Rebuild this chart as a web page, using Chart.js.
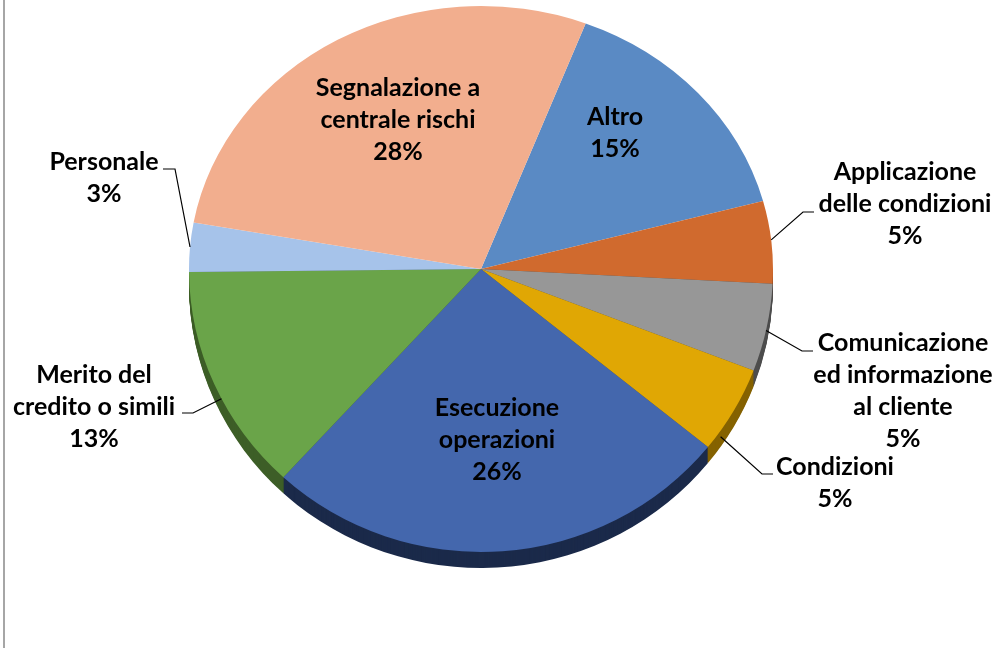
<!DOCTYPE html>
<html>
<head>
<meta charset="utf-8">
<script src="https://cdn.jsdelivr.net/npm/chart.js@4/dist/chart.umd.min.js"></script>
<style>
  html, body { margin: 0; padding: 0; background: #ffffff; }
  #wrap { position: relative; width: 996px; height: 648px; overflow: hidden; }
  #frame { position: absolute; left: 3px; top: 0; width: 0; height: 648px; border-left: 2px solid #a6a6a6; }
  canvas { position: absolute; left: 0; top: 0; }
</style>
</head>
<body>
<div id="wrap">
  <canvas id="c" width="996" height="648"></canvas>
  <div id="frame"></div>
</div>
<script>
// ---- data ----
const categories = [
  ["Altro"],
  ["Applicazione", "delle condizioni"],
  ["Comunicazione", "ed informazione", "al cliente"],
  ["Condizioni"],
  ["Esecuzione", "operazioni"],
  ["Merito del", "credito o simili"],
  ["Personale"],
  ["Segnalazione a", "centrale rischi"]
];
const shares = [15, 5, 5, 5, 26, 13, 3, 28];

// ---- styles ----
const faceColors = ['#5A8AC4', '#D06A2E', '#979797', '#E0A704', '#4467AD', '#6AA449', '#A6C3EA', '#F2AE8E'];
const sideColors = ['#2D4668', '#6E3616', '#4E4E4E', '#856200', '#1B2A4A', '#3D5E27', '#5A6E8A', '#8A5A44'];

// label layout (screen positions of first text line centre) and leader lines
const labelLayout = [
  { x: 615, y: 117 },
  { x: 905, y: 172, anchor: 0.48, elbow: [803, 212], end: 814 },
  { x: 903, y: 343, anchor: 0.53, elbow: [802, 351], end: 813 },
  { x: 835, y: 467, anchor: 0.77, elbow: [762, 474], end: 773, drop: 6 },
  { x: 497, y: 408 },
  { x: 94,  y: 375, anchor: 0.43, elbow: [193, 413], end: 182 },
  { x: 104, y: 162, anchor: 0.5, elbow: [175, 169], end: 163 },
  { x: 398, y: 88 }
];
const LINE_H = 32;
const FACE_CY = 269;          // apex of the tilted pie on screen
const SY_TOP = 263 / 292;     // far half
const SY_BOT = 283 / 292;     // near half
const DEPTH = 16;

function fitFont(ctx) {
  ctx.font = 'bold 100px Lato';
  const w = ctx.measureText('credito o simili').width;
  return Math.round(100 * 162 / w * 10) / 10;
}

function arcPath(ctx, p) {
  ctx.beginPath();
  ctx.moveTo(p.x, p.y);
  ctx.arc(p.x, p.y, p.outerRadius, p.startAngle, p.endAngle);
  ctx.closePath();
}

function tilt(ctx, cy, sy, dy) {
  ctx.translate(0, FACE_CY + (dy || 0));
  ctx.scale(1, sy);
  ctx.translate(0, -cy);
}

const pie3d = {
  id: 'pie3d',
  beforeDatasetsDraw(chart) {
    const ctx = chart.ctx;
    const arcs = chart.getDatasetMeta(0).data;
    const cy = arcs[0].y;
    // extruded side (only the near half can be seen)
    ctx.save();
    ctx.beginPath();
    ctx.rect(0, FACE_CY, chart.width, chart.height - FACE_CY);
    ctx.clip();
    for (let d = DEPTH; d >= 1; d--) {
      ctx.save();
      tilt(ctx, cy, SY_BOT, d);
      arcs.forEach((a, i) => {
        const p = a.getProps(['x', 'y', 'startAngle', 'endAngle', 'outerRadius'], true);
        arcPath(ctx, p);
        ctx.fillStyle = sideColors[i];
        ctx.fill();
      });
      ctx.restore();
    }
    ctx.restore();
    // far half of the top face (drawn by Chart.js itself)
    ctx.save();
    ctx.beginPath();
    ctx.rect(0, 0, chart.width, FACE_CY);
    ctx.clip();
    tilt(ctx, cy, SY_TOP, 0);
  },
  afterDatasetsDraw(chart) {
    const ctx = chart.ctx;
    ctx.restore();
    const meta = chart.getDatasetMeta(0);
    const cy = meta.data[0].y;
    // near half of the top face
    ctx.save();
    ctx.beginPath();
    ctx.rect(0, FACE_CY, chart.width, chart.height - FACE_CY);
    ctx.clip();
    tilt(ctx, cy, SY_BOT, 0);
    meta.controller.draw();
    ctx.restore();
  },
  afterDraw(chart) {
    const ctx = chart.ctx;
    const arcs = chart.getDatasetMeta(0).data;
    const total = shares.reduce((s, v) => s + v, 0);
    const size = fitFont(ctx);
    ctx.save();
    // leader lines
    ctx.strokeStyle = '#000000';
    ctx.lineWidth = 1.2;
    arcs.forEach((a, i) => {
      const L = labelLayout[i];
      if (L.anchor === undefined) return;
      const p = a.getProps(['x', 'y', 'startAngle', 'endAngle', 'outerRadius'], true);
      const ang = p.startAngle + L.anchor * (p.endAngle - p.startAngle);
      const s = Math.sin(ang);
      const ax = p.x + p.outerRadius * Math.cos(ang);
      const ay = FACE_CY + p.outerRadius * s * (s < 0 ? SY_TOP : SY_BOT) + (L.drop || 0);
      ctx.beginPath();
      ctx.moveTo(ax, ay);
      ctx.lineTo(L.elbow[0], L.elbow[1]);
      ctx.lineTo(L.end, L.elbow[1]);
      ctx.stroke();
    });
    // texts
    ctx.fillStyle = '#000000';
    ctx.textAlign = 'center';
    ctx.textBaseline = 'middle';
    ctx.font = 'bold ' + size + 'px Lato';
    shares.forEach((v, i) => {
      const L = labelLayout[i];
      const lines = categories[i].concat([Math.round(v / total * 100) + '%']);
      lines.forEach((t, k) => ctx.fillText(t, L.x, L.y + k * LINE_H));
    });
    ctx.restore();
  }
};

new Chart(document.getElementById('c'), {
  type: 'pie',
  data: {
    labels: categories,
    datasets: [{
      data: shares,
      backgroundColor: faceColors,
      borderWidth: 0,
      hoverOffset: 0,
      clip: false
    }]
  },
  options: {
    responsive: false,
    animation: false,
    events: [],
    rotation: 21,
    layout: { padding: { left: 189, right: 223, top: 32, bottom: 32 } },
    plugins: { legend: { display: false }, tooltip: { enabled: false } }
  },
  plugins: [pie3d]
});
</script>
</body>
</html>
